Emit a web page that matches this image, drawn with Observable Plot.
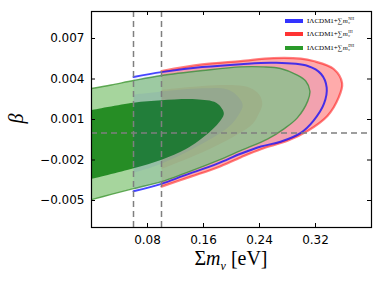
<!DOCTYPE html>
<html><head><meta charset="utf-8">
<script src="https://cdn.jsdelivr.net/npm/d3@7"></script>
<script src="https://cdn.jsdelivr.net/npm/@observablehq/plot@0.6"></script>
<style>
body{margin:0;background:#fff;}
#wrap{position:relative;width:381px;height:282px;overflow:hidden;}
.lab{position:absolute;font-family:"Liberation Serif",serif;color:#000;white-space:nowrap;}
#legend{position:absolute;left:285px;top:14px;font-family:"Liberation Serif",serif;font-size:7px;color:#000;}
.row{height:13.5px;display:flex;align-items:center;}
.sw{display:inline-block;width:18px;height:4px;margin-right:4px;}
.ss{display:inline-flex;flex-direction:column;font-size:4px;line-height:4px;vertical-align:middle;margin-left:0.5px;}
</style></head><body>
<div id="wrap"></div>
<script>
// axis ticks
const xTicks = [0.08, 0.16, 0.24, 0.32];
const yTicks = [0.007, 0.004, 0.001, -0.002, -0.005];
const priorLines = [0.06, 0.1];   // vertical dashed lines (Σmν)
const betaRef = [0];              // horizontal dashed line (β)

// contours: [Σmν (eV), β × 1e3]
const ih2 = [[0.100,4.59],[0.158,5.08],[0.213,5.33],[0.260,5.55],[0.299,5.51],[0.317,5.33],[0.346,4.74],[0.358,3.70],[0.353,2.62],[0.337,1.26],[0.309,0.16],[0.280,-0.58],[0.242,-1.20],[0.213,-1.81],[0.180,-2.55],[0.142,-3.23],[0.100,-3.97]];
const ih1 = [[0.100,3.19],[0.158,3.48],[0.206,3.53],[0.227,3.33],[0.240,2.82],[0.244,2.15],[0.239,1.42],[0.230,0.66],[0.201,-0.33],[0.158,-1.44],[0.100,-2.66]];
const nh2 = [[0.060,4.15],[0.100,4.51],[0.158,4.88],[0.213,5.10],[0.260,5.20],[0.309,4.96],[0.328,4.37],[0.336,3.36],[0.332,2.15],[0.317,0.90],[0.299,0.01],[0.270,-0.65],[0.242,-1.00],[0.213,-1.54],[0.180,-2.27],[0.132,-3.16],[0.100,-3.77],[0.060,-4.32]];
const nh1 = [[0.060,2.85],[0.100,3.08],[0.158,3.31],[0.192,3.26],[0.207,2.82],[0.216,2.08],[0.210,1.34],[0.196,0.46],[0.158,-0.80],[0.100,-2.27],[0.060,-2.94]];
const dh2 = [[0,3.30],[0.028,3.56],[0.060,3.89],[0.100,4.26],[0.159,4.63],[0.213,4.90],[0.245,4.90],[0.270,4.78],[0.294,4.29],[0.306,3.85],[0.312,3.11],[0.309,2.38],[0.294,1.12],[0.275,0.31],[0.252,-0.43],[0.213,-1.31],[0.180,-2.05],[0.132,-3.01],[0.100,-3.60],[0.060,-4.12],[0.028,-4.55],[0,-4.93]];
const dh1 = [[0,1.71],[0.060,2.25],[0.100,2.43],[0.149,2.50],[0.178,2.25],[0.187,1.76],[0.189,1.39],[0.182,0.77],[0.168,0.04],[0.135,-1.19],[0.100,-1.98],[0.060,-2.62],[0,-3.41]];

const pts = a => a.map(([x, b]) => ({x, y: b / 1000}));
const fillC = (d, fill, op) => Plot.line(pts(d), {x: "x", y: "y", curve: "catmull-rom", fill, fillOpacity: op, stroke: "none", clip: true});
const edge = (d, stroke, op, w) => Plot.line(pts(d), {x: "x", y: "y", curve: "catmull-rom", fill: "none", stroke, strokeOpacity: op, strokeWidth: w, clip: true});

const W = 381, H = 282, mL = 91, mR = 10, mT = 11, mB = 55;
const fw = W - mL - mR, fh = H - mT - mB, tl = 4;

const chart = Plot.plot({
  width: W, height: H,
  marginLeft: mL, marginRight: mR, marginTop: mT, marginBottom: mB,
  x: {domain: [0, 0.4]},
  y: {domain: [-0.007, 0.009]},
  style: {fontFamily: "DejaVu Sans", fontSize: "12px", color: "#000", background: "#fff"},
  marks: [
    fillC(ih2, "#ff0000", 0.33),
    fillC(ih1, "#ff0000", 0.35),
    edge(ih2, "#ff0000", 0.5, 2.2),
    fillC(dh2, "#92cc88", 0.82),
    fillC(dh1, "#0f8010", 0.85),
    edge(dh2, "#3e9632", 0.8, 1.4),
    fillC(nh2, "#0000ff", 0.05),
    fillC(nh1, "#0000ff", 0.05),
    edge(nh2, "#0000ff", 0.72, 2),
    Plot.ruleX(priorLines, {x: d => d, stroke: "#7f7f7f", strokeWidth: 1.5, strokeDasharray: "6,4"}),
    Plot.ruleY(betaRef, {y: d => d, stroke: "#7f7f7f", strokeWidth: 1.5, strokeDasharray: "6,4"}),
    Plot.tickX(xTicks, {x: d => d, insetTop: fh - tl, stroke: "#000"}),
    Plot.tickX(xTicks, {x: d => d, insetBottom: fh - tl, stroke: "#000"}),
    Plot.tickY(yTicks, {y: d => d, insetRight: fw - tl, stroke: "#000"}),
    Plot.tickY(yTicks, {y: d => d, insetLeft: fw - tl, stroke: "#000"}),
    Plot.axisX(xTicks, {tickSize: 0, tickPadding: 8, tickFormat: d3.format(".2f"), label: null, fontSize: 12}),
    Plot.axisY(yTicks, {tickSize: 0, tickPadding: 7, tickFormat: d3.format(".3f"), label: null, fontSize: 12}),
    Plot.frame({stroke: "#000", strokeWidth: 1.2})
  ]
});
const wrap = document.getElementById("wrap");
wrap.appendChild(chart);

// legend
const legendItems = [
  {color: "#3333ff", sup: "NH"},
  {color: "#ff3333", sup: "IH"},
  {color: "#2a9a2a", sup: "DH"}
];
const lg = document.createElement("div");
lg.id = "legend";
lg.innerHTML = legendItems.map(d =>
  `<div class="row"><span class="sw" style="background:${d.color}"></span><span>IΛCDM1+∑<i>m</i></span><span class="ss"><span>${d.sup}</span><i>ν</i></span></div>`
).join("");
wrap.appendChild(lg);

// axis labels
const xl = document.createElement("div");
xl.className = "lab";
xl.style.cssText = "left:0;width:" + (2 * (mL + fw / 2)) + "px;text-align:center;top:247px;font-size:20px;";
xl.innerHTML = 'Σ<i>m</i><sub style="font-size:12px"><i>ν</i></sub> [eV]';
wrap.appendChild(xl);

const yl = document.createElement("div");
yl.className = "lab";
yl.style.cssText = "left:12px;top:107px;font-size:20px;transform:rotate(-90deg);transform-origin:center;";
yl.innerHTML = '<i>β</i>';
wrap.appendChild(yl);
</script>
</body></html>
